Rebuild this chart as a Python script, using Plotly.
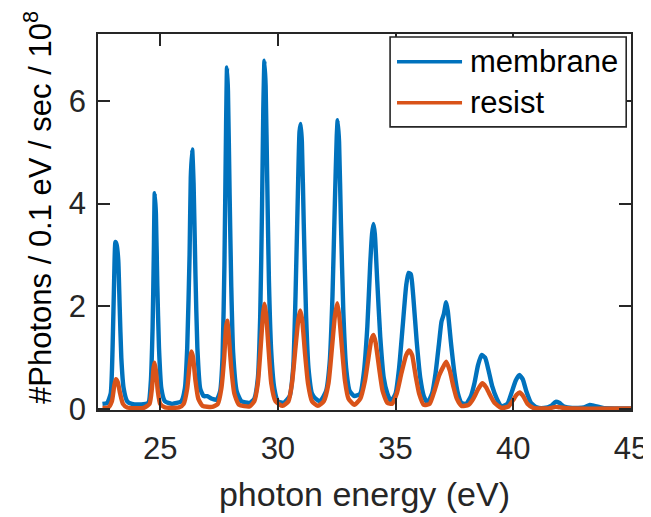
import plotly.graph_objects as go

# ---- data ----
membrane_x = [22.55, 22.75, 22.9, 22.98, 23.05, 23.1, 23.15, 23.22, 23.28, 23.35, 23.45, 23.6, 23.8, 24.2,
              24.5, 24.6, 24.68, 24.73, 24.77, 24.82, 24.88, 24.95, 25.05, 25.2, 25.5,
              25.9, 26.05, 26.15, 26.25, 26.3, 26.36, 26.42, 26.5, 26.58, 26.7, 26.85, 27.0, 27.2, 27.4,
              27.55, 27.65, 27.73, 27.8, 27.84, 27.88, 27.95, 28.02, 28.1, 28.25, 28.45, 28.8,
              29.0, 29.15, 29.25, 29.33, 29.38, 29.43, 29.48, 29.55, 29.62, 29.72, 29.85, 30.0, 30.25,
              30.5, 30.65, 30.75, 30.85, 30.92, 30.97, 31.02, 31.1, 31.2, 31.3, 31.45, 31.6, 31.8,
              32.05, 32.2, 32.32, 32.42, 32.5, 32.54, 32.6, 32.68, 32.78, 32.9, 33.05, 33.25,
              33.5, 33.65, 33.8, 33.92, 34.0, 34.06, 34.12, 34.22, 34.35, 34.5, 34.65, 34.8,
              35.0, 35.15, 35.3, 35.45, 35.55, 35.65, 35.75, 35.9, 36.05, 36.2, 36.35,
              36.55, 36.7, 36.85, 36.95, 37.05, 37.15, 37.22, 37.35, 37.5, 37.65, 37.8, 38.0,
              38.2, 38.35, 38.5, 38.65, 38.8, 38.95, 39.1, 39.3, 39.5,
              39.75, 39.95, 40.1, 40.25, 40.4, 40.55, 40.75, 41.0, 41.3,
              41.6, 41.8, 41.95, 42.15, 42.5, 43.0, 43.25, 43.45, 43.8, 44.3, 45.0]
membrane_y = [0.10, 0.12, 0.3, 1.2, 2.6, 3.25, 3.2, 2.9, 2.0, 1.0, 0.4, 0.15, 0.10, 0.09,
              0.12, 0.5, 1.6, 3.0, 4.2, 3.8, 2.4, 1.2, 0.4, 0.15, 0.10,
              0.15, 0.4, 1.2, 3.0, 4.5, 5.05, 4.4, 2.6, 1.2, 0.4, 0.25, 0.25, 0.2, 0.18,
              0.35, 1.0, 2.8, 5.5, 6.65, 6.2, 4.2, 2.4, 1.1, 0.35, 0.15, 0.12,
              0.2, 0.6, 1.8, 4.0, 5.8, 6.78, 6.3, 4.4, 2.5, 1.1, 0.4, 0.15, 0.12,
              0.25, 0.8, 2.2, 4.2, 5.4, 5.55, 5.2, 3.6, 1.8, 0.8, 0.3, 0.2, 0.15,
              0.35, 0.9, 2.2, 4.0, 5.3, 5.62, 5.2, 3.6, 1.9, 0.8, 0.35, 0.25,
              0.3, 0.7, 1.6, 2.8, 3.4, 3.6, 3.4, 2.5, 1.4, 0.6, 0.3, 0.15,
              0.3, 0.8, 1.6, 2.4, 2.65, 2.62, 2.2, 1.3, 0.6, 0.25, 0.12,
              0.3, 0.7, 1.3, 1.7, 1.85, 2.08, 1.9, 1.3, 0.7, 0.3, 0.12, 0.1,
              0.25, 0.5, 0.85, 1.05, 1.0, 0.75, 0.45, 0.2, 0.05,
              0.1, 0.35, 0.55, 0.66, 0.58, 0.35, 0.12, 0.03, 0.02,
              0.06, 0.14, 0.12, 0.05, 0.02, 0.03, 0.08, 0.06, 0.02, 0.01, 0.01]

resist_x = [22.55, 22.8, 22.95, 23.05, 23.12, 23.2, 23.3, 23.42, 23.6, 24.3,
            24.55, 24.65, 24.72, 24.76, 24.82, 24.9, 25.0, 25.2, 25.8,
            26.0, 26.15, 26.25, 26.33, 26.4, 26.5, 26.62, 26.8, 27.2,
            27.45, 27.6, 27.72, 27.8, 27.85, 27.92, 28.02, 28.15, 28.35, 28.8,
            29.0, 29.15, 29.27, 29.37, 29.43, 29.5, 29.6, 29.72, 29.9, 30.2,
            30.45, 30.6, 30.75, 30.87, 30.95, 31.03, 31.15, 31.28, 31.45, 31.7,
            31.95, 32.15, 32.3, 32.42, 32.52, 32.6, 32.72, 32.85, 33.0, 33.25,
            33.5, 33.7, 33.85, 33.97, 34.06, 34.15, 34.3, 34.45, 34.65, 34.85,
            35.05, 35.25, 35.45, 35.58, 35.7, 35.85, 36.0, 36.2,
            36.45, 36.65, 36.85, 37.0, 37.15, 37.3, 37.45, 37.6, 37.8,
            38.1, 38.3, 38.5, 38.68, 38.85, 39.0, 39.2, 39.5,
            39.8, 40.0, 40.15, 40.27, 40.42, 40.6, 40.85, 41.5, 41.8, 42.0, 42.5, 45.0]
resist_y = [0.02, 0.03, 0.15, 0.45, 0.58, 0.52, 0.3, 0.1, 0.03, 0.02,
            0.1, 0.4, 0.8, 0.9, 0.75, 0.35, 0.1, 0.03, 0.03,
            0.1, 0.4, 0.85, 1.12, 1.0, 0.55, 0.2, 0.06, 0.04,
            0.1, 0.4, 1.0, 1.6, 1.72, 1.4, 0.8, 0.3, 0.08, 0.05,
            0.15, 0.5, 1.2, 1.85, 2.05, 1.85, 1.2, 0.5, 0.15, 0.06,
            0.15, 0.5, 1.2, 1.75, 1.92, 1.75, 1.1, 0.5, 0.15, 0.06,
            0.15, 0.5, 1.2, 1.8, 2.06, 1.85, 1.2, 0.55, 0.2, 0.08,
            0.2, 0.55, 1.0, 1.35, 1.44, 1.3, 0.8, 0.35, 0.12, 0.1,
            0.3, 0.7, 1.05, 1.14, 1.05, 0.65, 0.3, 0.08,
            0.1, 0.35, 0.65, 0.8, 0.92, 0.75, 0.45, 0.2, 0.06,
            0.08, 0.2, 0.38, 0.5, 0.42, 0.28, 0.12, 0.02,
            0.05, 0.18, 0.28, 0.32, 0.25, 0.1, 0.02, 0.01, 0.04, 0.03, 0.01, 0.01]

series_names = ["membrane", "resist"]
series_colors = ["#0072BD", "#D95319"]
x_ticks = [25, 30, 35, 40, 45]
y_ticks = [0, 2, 4, 6]

FONT = "Liberation Sans, Arial, sans-serif"
INK = "#262626"

fig = go.Figure()
for xs, ys, name, col in [(membrane_x, membrane_y, series_names[0], series_colors[0]),
                          (resist_x, resist_y, series_names[1], series_colors[1])]:
    fig.add_trace(go.Scatter(x=xs, y=ys, mode="lines", name=name, showlegend=False,
                             line=dict(color=col, width=4.4, shape="spline", smoothing=0.5)))

axis_common = dict(showline=True, linecolor=INK, linewidth=1.6, mirror="ticks",
                   ticks="inside", ticklen=12, tickwidth=1.6, tickcolor=INK,
                   showgrid=False, zeroline=False, automargin=False,
                   tickfont=dict(family=FONT, size=31, color=INK))

fig.update_xaxes(range=[22.36, 45], tickvals=x_ticks, ticktext=[str(t) for t in x_ticks],
                 title=dict(text="photon energy (eV)", font=dict(family=FONT, size=34, color=INK),
                            standoff=17),
                 ticklabelstandoff=10, **axis_common)
fig.update_yaxes(range=[-0.02, 7.3], tickvals=y_ticks, ticktext=[str(t) for t in y_ticks],
                 ticklabelstandoff=4, **axis_common)

# y-axis title (placed as rotated text, slightly above the axis centre as in the reference)
fig.add_annotation(xref="paper", yref="paper", x=-0.114, y=0.538, textangle=-90,
                   text="#Photons / 0.1 eV / sec / 10<sup>8</sup>", showarrow=False,
                   xanchor="center", yanchor="middle",
                   font=dict(family=FONT, size=31, color="black"))

# legend box (drawn manually to match the long line samples)
fig.add_shape(type="rect", xref="paper", yref="paper", x0=0.548, x1=0.991, y0=0.753, y1=0.992,
              line=dict(color=INK, width=1.6), fillcolor="white", layer="above")
legend_y = [0.926, 0.817]
for name, col, ly in zip(series_names, series_colors, legend_y):
    fig.add_shape(type="line", xref="paper", yref="paper", x0=0.561, x1=0.683, y0=ly, y1=ly,
                  line=dict(color=col, width=3.5), layer="above")
    fig.add_annotation(xref="paper", yref="paper", x=0.694, y=ly, text=name, showarrow=False,
                       xanchor="left", yanchor="middle",
                       font=dict(family=FONT, size=31, color="black"))

fig.update_layout(width=643, height=509, margin=dict(l=90, r=20, t=26, b=107),
                  paper_bgcolor="white", plot_bgcolor="white",
                  font=dict(family=FONT, size=30, color=INK), showlegend=False)

fig.write_html("out.html")
